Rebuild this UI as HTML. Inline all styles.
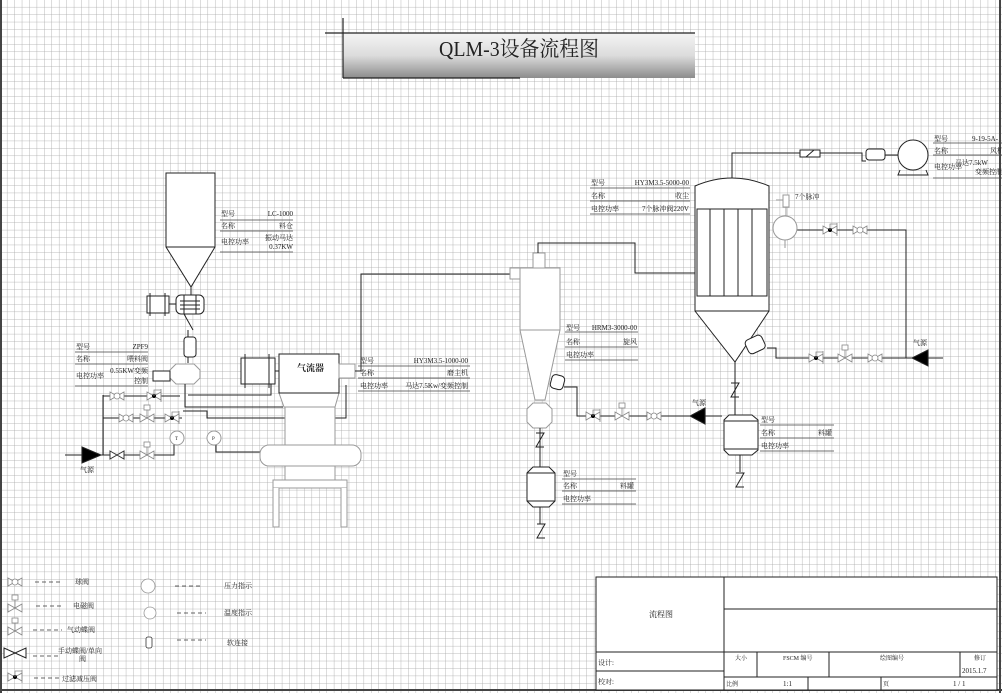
<!DOCTYPE html>
<html><head><meta charset="utf-8"><style>
html,body{margin:0;padding:0;background:#fff;}
svg{display:block;}
text{font-family:"Liberation Serif","Noto Serif CJK SC","Noto Sans CJK SC",serif;fill:#222;}
</style></head><body>
<svg width="1002" height="693" viewBox="0 0 1002 693" xmlns="http://www.w3.org/2000/svg">
<defs>
<pattern id="g" x="0" y="0" width="7.43" height="7.43" patternUnits="userSpaceOnUse">
<path d="M7.43 0V7.43M0 7.43H7.43" stroke="#a8a8a8" stroke-width="0.8" fill="none"/>
</pattern>
<linearGradient id="tg" x1="0" y1="0" x2="0" y2="1">
<stop offset="0" stop-color="#f4f4f4"/><stop offset="0.5" stop-color="#dcdcdc"/><stop offset="1" stop-color="#8c8c8c"/>
</linearGradient>
<g id="bv"><path d="M-7 -4L7 4V-4L-7 4Z" fill="#fff" stroke="#888" stroke-width="0.8"/><circle r="3" fill="#fff" stroke="#888" stroke-width="0.8"/></g>
<g id="sv"><path d="M-7 -4L7 4V-4L-7 4Z" fill="#fff" stroke="#888" stroke-width="0.8"/><path d="M0 0V-8" stroke="#888" stroke-width="0.8"/><rect x="-3" y="-13" width="6" height="5" fill="#fff" stroke="#888" stroke-width="0.8"/></g>
<g id="fv"><path d="M-7 -4L7 4V-4L-7 4Z" fill="#fff" stroke="#888" stroke-width="0.8"/><circle r="2" fill="#000"/><path d="M7 -7V6M0 0V-6H7" stroke="#888" stroke-width="0.8" fill="none"/></g>
<g id="zv"><path d="M-4 0H4L-4 14H4" fill="none" stroke="#222" stroke-width="1"/></g>
</defs>
<rect width="1002" height="693" fill="#fff"/>
<rect width="1002" height="693" fill="url(#g)"/>
<path d="M1 0V693M0 690H1002M1000 0V693" stroke="#444" stroke-width="2"/>

<!-- title -->
<rect x="343" y="33" width="352" height="45" fill="url(#tg)"/>
<path d="M325 33H695M343 18V78M343 78H520" stroke="#222" stroke-width="1.2"/>
<text x="519" y="56" font-size="21" text-anchor="middle" font-family="Liberation Mono,Noto Serif CJK SC,monospace" textLength="160" lengthAdjust="spacingAndGlyphs">QLM-3设备流程图</text>

<g stroke="#222" stroke-width="1" fill="#fff">
<!-- hopper -->
<path d="M166 173H215V247L191 287L166 247Z"/>
<path d="M166 247H215"/>
<path d="M191 287V295"/>
<!-- feeder -->
<rect x="147" y="296" width="22" height="17"/>
<path d="M150 293V316M165 293V316M169 304H176" fill="none"/>
<rect x="176" y="295" width="28" height="19" rx="5"/>
<path d="M180 301H200M180 305H200M180 309H200M184 295V314M196 295V314" fill="none"/>
<path d="M184 314L193 330M188 330V337" fill="none"/>
<rect x="184" y="337" width="12" height="20" rx="3"/>
<path d="M188 357V363" fill="none"/>
<path d="M176 364H194L200 370V378L194 384H176L170 378V370Z" stroke="#999"/>
<rect x="153" y="371" width="17" height="10"/>
<!-- piping left -->
<path d="M65 455H103M103 395V455M103 396H180M103 418H182M103 455H174V440M188 395H271V373M185 384V407H283M183 411H207V418H346V385M216 440V452H262" fill="none"/>
<circle cx="177" cy="438" r="7" stroke="#999"/>
<circle cx="214" cy="438" r="7" stroke="#999"/>
<text x="175" y="440" font-size="5" stroke="none">T</text>
<text x="212" y="440" font-size="5" stroke="none">P</text>
<path d="M82 447L101 455L82 463Z" fill="#000"/>
<!-- mill -->
<rect x="241" y="358" width="34" height="26"/>
<path d="M245 354V388M269 354V388M275 371H279" fill="none"/>
<path d="M279 393H339L335 407H284Z" stroke="#999"/>
<rect x="285" y="407" width="50" height="73" stroke="#999"/>
<rect x="273" y="480" width="74" height="8" stroke="#999"/>
<path d="M273 488V527H279V488M341 488V527H347V488" stroke="#999"/>
<rect x="260" y="445" width="101" height="21" rx="9" stroke="#999"/>
<rect x="279" y="354" width="60" height="39"/>
<rect x="339" y="364" width="16" height="14" stroke="#999"/>
<path d="M355 371H361V274H510" fill="none"/>
<!-- cyclone -->
<g stroke="#999">
<rect x="533" y="253" width="12" height="15"/>
<rect x="510" y="268" width="10" height="11"/>
<path d="M520 268H560V330L545 400H535L520 330Z"/>
<path d="M520 330H560"/>
<path d="M533 403H546L552 409V422L546 428H533L527 422V409Z"/>
</g>
<path d="M538 253V243H635V273H695" fill="none"/>
<rect x="551" y="375" width="13" height="14" rx="4" transform="rotate(15 557 382)"/>
<path d="M564 387H577V416H690M705 416H722" fill="none"/>
<path d="M705 408L690 416L705 424Z" fill="#000"/>
<path d="M540 428V467" fill="none"/>
<path d="M533 467H549L555 473V501L549 507H533L527 501V473Z"/>
<path d="M527 473H555M527 501H555" fill="none"/>
<path d="M540 507V524" fill="none"/>
<!-- dust collector -->
<path d="M695 186Q732 170 769 186V311L735 362L695 311Z"/>
<path d="M695 311H769" fill="none"/>
<rect x="697" y="209" width="70" height="87"/>
<path d="M710 209V296M724 209V296M738 209V296M752 209V296M697 296H767" fill="none"/>
<rect x="746" y="337" width="18" height="15" rx="4" transform="rotate(-25 755 344)"/>
<path d="M767 348H776V358H906V230H797M906 358H943" fill="none"/>
<path d="M928 350L912 358L928 366Z" fill="#000"/>
<circle cx="785" cy="228" r="12" stroke="#999"/>
<path d="M785 240V248" stroke="#999" fill="none"/>
<rect x="783" y="195" width="6" height="12" stroke="#999"/>
<path d="M776 200H783M786 207V216" stroke="#999" fill="none"/>
<path d="M735 362V415" fill="none"/>
<path d="M729 415H752L758 420V450L752 455H729L724 450V420Z"/>
<path d="M724 421H758M724 449H758" fill="none"/>
<path d="M740 455V472" fill="none"/>
<!-- fan line -->
<path d="M732 178V153H800M820 153H862V161H866M885 155H913" fill="none"/>
<rect x="800" y="150" width="20" height="7"/>
<path d="M806 157L814 150" fill="none"/>
<rect x="866" y="149" width="19" height="11" rx="3"/>
<circle cx="913" cy="155" r="15"/>
<path d="M900 170L898 175H928L926 170" fill="none"/>
</g>
<use href="#zv" x="540" y="433"/>
<use href="#zv" x="541" y="524"/>
<use href="#zv" x="735" y="383"/>
<use href="#zv" x="740" y="473"/>

<!-- valves -->
<use href="#bv" x="117" y="396"/><use href="#fv" x="154" y="396"/>
<use href="#bv" x="126" y="418"/><use href="#sv" x="147" y="418"/><use href="#fv" x="172" y="418"/>
<g transform="translate(117 455)"><path d="M-7 -4L7 4V-4L-7 4Z" fill="#fff" stroke="#333"/></g>
<use href="#sv" x="147" y="455"/>
<use href="#fv" x="593" y="416"/><use href="#sv" x="622" y="416"/><use href="#bv" x="654" y="416"/>
<use href="#fv" x="816" y="358"/><use href="#sv" x="845" y="358"/><use href="#bv" x="875" y="358"/>
<use href="#fv" x="830" y="230"/><use href="#bv" x="860" y="230"/>

<!-- labels / tables -->
<g stroke="#444" stroke-width="0.7" fill="none">
<path d="M220 220H293M220 231H293M220 252H293"/>
<path d="M75 352H148M75 364H148M75 386H148"/>
<path d="M358 366H470M358 378H470M358 391H470"/>
<path d="M565 332H638M565 347H638M565 360H638"/>
<path d="M562 479H636M562 491H636M562 504H636"/>
<path d="M590 188H690M590 201H690M590 214H690"/>
<path d="M760 425H834M760 438H834M760 451H834"/>
<path d="M933 143H1002M933 155H1002M933 178H1002"/>
</g>
<g font-size="7">
<text x="221" y="216">型号</text><text x="293" y="216" text-anchor="end">LC-1000</text>
<text x="221" y="228">名称</text><text x="293" y="228" text-anchor="end">料仓</text>
<text x="221" y="244">电控功率</text><text x="293" y="240" text-anchor="end">振动马达</text><text x="293" y="249" text-anchor="end">0.37KW</text>
<text x="76" y="349">型号</text><text x="148" y="349" text-anchor="end">ZPF9</text>
<text x="76" y="361">名称</text><text x="148" y="361" text-anchor="end">喂料阀</text>
<text x="76" y="378">电控功率</text><text x="148" y="373" text-anchor="end">0.55KW变频</text><text x="148" y="383" text-anchor="end">控制</text>
<text x="360" y="363">型号</text><text x="468" y="363" text-anchor="end">HY3M3.5-1000-00</text>
<text x="360" y="375">名称</text><text x="468" y="375" text-anchor="end">磨主机</text>
<text x="360" y="388">电控功率</text><text x="468" y="388" text-anchor="end">马达7.5Kw/变频控制</text>
<text x="566" y="330">型号</text><text x="637" y="330" text-anchor="end">HRM3-3000-00</text>
<text x="566" y="344">名称</text><text x="637" y="344" text-anchor="end">旋风</text>
<text x="566" y="357">电控功率</text>
<text x="563" y="476">型号</text>
<text x="563" y="488">名称</text><text x="634" y="488" text-anchor="end">料罐</text>
<text x="563" y="501">电控功率</text>
<text x="591" y="185">型号</text><text x="689" y="185" text-anchor="end">HY3M3.5-5000-00</text>
<text x="591" y="198">名称</text><text x="689" y="198" text-anchor="end">收尘</text>
<text x="591" y="211">电控功率</text><text x="689" y="211" text-anchor="end">7个脉冲阀220V</text>
<text x="761" y="422">型号</text>
<text x="761" y="435">名称</text><text x="832" y="435" text-anchor="end">料罐</text>
<text x="761" y="448">电控功率</text>
<text x="934" y="141">型号</text><text x="972" y="141">9-19-5A-</text>
<text x="934" y="153">名称</text><text x="990" y="153">风机</text>
<text x="934" y="169">电控功率</text><text x="955" y="165">马达7.5kW</text><text x="975" y="174">变频控制</text>
<text x="795" y="199">7个脉冲</text>
<text x="80" y="472">气源</text><text x="692" y="405">气源</text><text x="913" y="345">气源</text>
</g>
<text x="297" y="371" font-size="9" font-weight="bold">气流器</text>

<!-- legend -->
<g stroke="#333" stroke-width="0.8" stroke-dasharray="4 3" fill="none">
<path d="M35 582H62M36 606H64M33 630H62M33 656H58M34 678H62M175 586H203M177 613H206M177 640H206"/>
</g>
<use href="#bv" x="15" y="582"/>
<use href="#sv" x="15" y="608"/>
<use href="#sv" x="15" y="631"/>
<g transform="translate(15 653)"><path d="M-11 -5L11 5V-5L-11 5Z" fill="#fff" stroke="#222"/></g>
<use href="#fv" x="15" y="677"/>
<circle cx="148" cy="586" r="7" fill="#fff" stroke="#999" stroke-width="0.8"/>
<circle cx="150" cy="613" r="6" fill="#fff" stroke="#999" stroke-width="0.8"/>
<rect x="146" y="637" width="6" height="11" rx="2" fill="#fff" stroke="#333" stroke-width="0.8"/>
<g font-size="7">
<text x="75" y="584">球阀</text><text x="73" y="608">电磁阀</text><text x="67" y="632">气动蝶阀</text>
<text x="58" y="653">手动蝶阀/单向</text><text x="79" y="661">阀</text><text x="62" y="681">过滤减压阀</text>
<text x="224" y="588">压力指示</text><text x="224" y="615">温度指示</text><text x="227" y="645">软连接</text>
</g>

<!-- title block -->
<g stroke="#222" stroke-width="1" fill="none">
<rect x="596" y="577" width="401" height="113" fill="#fff"/>
<path d="M724 577V690M724 609H997M596 652H997M596 671H724M724 677H997M757 652V677M829 652V677M960 652V677M808 677V690M881 677V690"/>
</g>
<g font-size="6">
<text x="649" y="617" font-size="8">流程图</text>
<text x="598" y="665" font-size="7">设计:</text>
<text x="598" y="684" font-size="7">校对:</text>
<text x="735" y="660">大小</text><text x="783" y="660">FSCM 编号</text><text x="880" y="660">绘图编号</text><text x="974" y="660">修订</text>
<text x="962" y="673" font-size="7">2015.1.7</text>
<text x="726" y="686">比例</text><text x="783" y="686" font-size="7">1:1</text><text x="883" y="686">页</text><text x="953" y="686" font-size="7">1 / 1</text>
</g>
</svg>
</body></html>
